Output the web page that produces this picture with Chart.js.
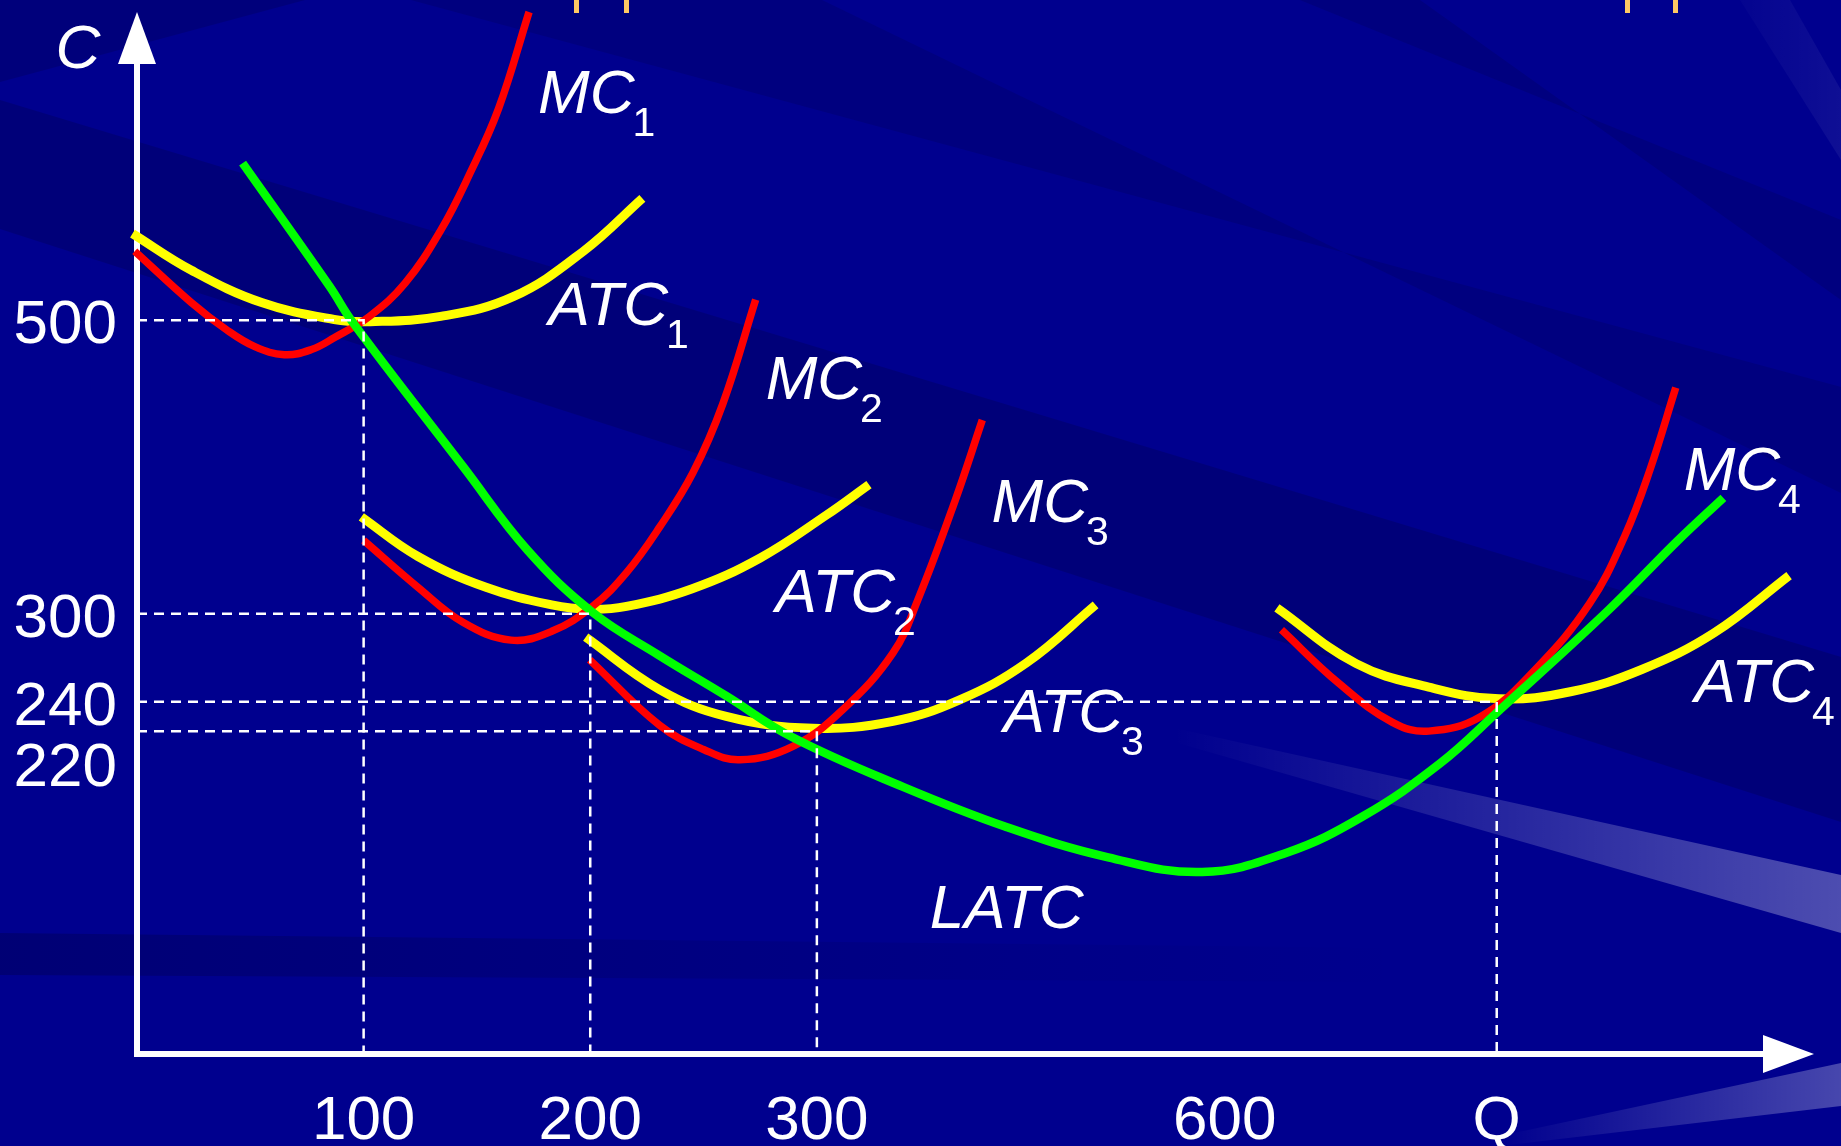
<!DOCTYPE html>
<html>
<head>
<meta charset="utf-8">
<title>Short-run and long-run average cost</title>
<script src="https://cdn.jsdelivr.net/npm/chart.js@4.4.1/dist/chart.umd.min.js"></script>
<style>
  html, body { margin: 0; padding: 0; background: #00008c; overflow: hidden; }
  #wrap { width: 1841px; height: 1146px; position: relative; }
</style>
</head>
<body>
<div id="wrap"><canvas id="chart"></canvas></div>
<script>
// Axis ticks. The "600" label sits under the LATC minimum, Q under the last guide.
const xTickValues = [100, 200, 300, 480, 600];
const xTickLabels = ['100', '200', '300', '600', 'Q'];
const yTickValues = [500, 300, 240, 220];
const yTickLabels = ['500', '300', '240', '220'];

// Short-run curves as [Q, C] pairs
const atc1 = [[-2, 559], [24, 534], [55, 512], [87, 500.5], [103, 499], [134, 502.6], [166, 516], [197, 547], [223, 583]];
const mc1 = [[-1, 547], [24, 512], [39.5, 493.5], [52, 482], [65, 476.5], [77, 480], [87, 488], [102.6, 502.6], [118.4, 525.4], [134.2, 561.7], [146.6, 599], [159.5, 644], [173, 710]];
const atc2 = [[99, 366], [124, 339], [154, 318], [183, 306], [200, 303], [216, 305], [245, 317], [275, 338], [304, 367], [323, 388]];
const mc2 = [[100, 350], [124, 318], [144, 294], [165, 282], [183, 288], [201, 305], [216, 328], [230.6, 359], [245.3, 396], [258.5, 443], [273, 514]];
const atc3 = [[198, 284], [230.6, 248.3], [260, 230], [298.3, 222], [333.6, 226.7], [363, 241.3], [392.5, 266.5], [423, 306]];
const mc3 = [[199.7, 268.7], [230.6, 224], [250, 207.5], [266, 200.5], [289.4, 209.6], [311.5, 234.7], [333.6, 273.3], [344.6, 309.6], [361, 377], [373, 432]];
const atc4 = [[503, 304], [538, 266], [570, 250], [601, 242], [633, 247], [664, 262], [696, 287], [729, 326]];
const mc4 = [[505, 289], [530, 253], [554, 226], [570, 220], [593, 230], [617, 262], [641, 307], [656.5, 353], [667.6, 398], [679, 454]];

// Long-run average total cost
const latc = [[46.6, 607], [85, 523], [95, 499], [144, 400], [172.5, 343], [201, 301], [230, 272], [260, 244],
  [289, 216], [338, 182], [383, 155], [428.5, 134], [470, 124], [507, 137], [541, 162], [575, 198],
  [601, 234], [649, 302], [680, 350], [700, 379]];

// Dashed guides from the C axis to the Q axis
const guide500 = [[0, 500], [100, 500], [100, 0]];
const guide300 = [[0, 300], [200, 300], [200, 0]];
const guide220 = [[0, 220], [300, 220], [300, 0]];
const guide240 = [[0, 240], [600, 240], [600, 0]];

// Curve names: main text, subscript, anchor [Q, C] of the text's left baseline
const curveLabels = [
  { main: 'C', sub: '', q: -36, c: 672 },
  { main: 'MC', sub: '1', q: 177, c: 641 },
  { main: 'ATC', sub: '1', q: 181.6, c: 497 },
  { main: 'MC', sub: '2', q: 277.4, c: 446 },
  { main: 'ATC', sub: '2', q: 281.8, c: 301.4 },
  { main: 'MC', sub: '3', q: 377.1, c: 362.7 },
  { main: 'ATC', sub: '3', q: 382.4, c: 219.7 },
  { main: 'MC', sub: '4', q: 682.5, c: 384.5 },
  { main: 'ATC', sub: '4', q: 687.3, c: 240.1 },
  { main: 'LATC', sub: '', q: 349.8, c: 86.1 }
];

const FONT = '"Liberation Sans", Arial, sans-serif';

function pts(arr) {
    return arr.map(([x, y]) => ({ x, y }));
}

function curve(label, data, color, width) {
    return {
        label: label,
        data: pts(data),
        borderColor: color,
        borderWidth: width,
        showLine: true,
        pointRadius: 0,
        tension: 0.4,
        fill: false,
        clip: false
    };
}

function guide(label, data) {
    return {
        label: label,
        data: pts(data),
        borderColor: '#ffffff',
        borderWidth: 2.5,
        borderDash: [10, 7],
        showLine: true,
        pointRadius: 0,
        tension: 0,
        fill: false
    };
}

/**
 * Slide background: navy with diagonal bands and pale streaks
 */
const backdrop = {
    id: 'backdrop',
    beforeDraw(chart) {
        const { ctx, width, height } = chart;
        const poly = (p, style) => {
            ctx.beginPath();
            p.forEach(([px, py], i) => (i ? ctx.lineTo(px, py) : ctx.moveTo(px, py)));
            ctx.closePath();
            ctx.fillStyle = style;
            ctx.fill();
        };
        ctx.save();
        ctx.fillStyle = '#00008e';
        ctx.fillRect(0, 0, width, height);

        poly([[0, 0], [305, 0], [0, 82]], 'rgba(0,0,50,0.2)');
        poly([[0, 100], [0, 229], [1841, 822], [1841, 657]], 'rgba(0,0,50,0.22)');
        poly([[411, 0], [822, 0], [1841, 493], [1841, 387]], 'rgba(0,0,50,0.16)');
        poly([[1300, 0], [1420, 0], [1841, 300], [1841, 220]], 'rgba(0,0,50,0.16)');

        const low = ctx.createLinearGradient(0, 0, 1400, 0);
        low.addColorStop(0, 'rgba(0,0,50,0.28)');
        low.addColorStop(1, 'rgba(0,0,50,0)');
        poly([[0, 933], [1400, 948], [1400, 982], [0, 975]], low);

        const glow1 = ctx.createLinearGradient(1174, 0, 1841, 0);
        glow1.addColorStop(0, 'rgba(255,255,255,0)');
        glow1.addColorStop(1, 'rgba(255,255,255,0.3)');
        poly([[1174, 728], [1841, 875], [1841, 933], [1174, 742]], glow1);

        const glow2 = ctx.createLinearGradient(1500, 0, 1841, 0);
        glow2.addColorStop(0, 'rgba(255,255,255,0)');
        glow2.addColorStop(1, 'rgba(255,255,255,0.28)');
        poly([[1500, 1136], [1841, 1063], [1841, 1106], [1500, 1146]], glow2);

        const glow3 = ctx.createLinearGradient(1700, 0, 1841, 0);
        glow3.addColorStop(0, 'rgba(255,255,255,0)');
        glow3.addColorStop(1, 'rgba(255,255,255,0.06)');
        poly([[1740, 0], [1790, 0], [1841, 90], [1841, 160]], glow3);

        // feet of the cut-off slide title
        ctx.fillStyle = '#ffc864';
        [574, 624, 1625, 1673].forEach(bx => ctx.fillRect(bx, 0, 5, 13));
        ctx.restore();
    }
};

/**
 * White C and Q axes with arrow heads
 */
const axes = {
    id: 'axes',
    beforeDatasetsDraw(chart) {
        const { ctx, chartArea: { left, right, top, bottom } } = chart;
        ctx.save();
        ctx.strokeStyle = '#ffffff';
        ctx.fillStyle = '#ffffff';
        ctx.lineWidth = 6;
        ctx.beginPath();
        ctx.moveTo(left, bottom + 3);
        ctx.lineTo(left, top + 48);
        ctx.moveTo(left - 3, bottom);
        ctx.lineTo(right - 48, bottom);
        ctx.stroke();

        ctx.beginPath();
        ctx.moveTo(left, top);
        ctx.lineTo(left + 19, top + 52);
        ctx.lineTo(left - 19, top + 52);
        ctx.closePath();
        ctx.fill();

        ctx.beginPath();
        ctx.moveTo(right, bottom);
        ctx.lineTo(right - 51, bottom - 19);
        ctx.lineTo(right - 51, bottom + 19);
        ctx.closePath();
        ctx.fill();
        ctx.restore();
    }
};

/**
 * Tick labels and curve names
 */
const annotate = {
    id: 'annotate',
    afterDatasetsDraw(chart) {
        const { ctx, chartArea, scales: { x, y } } = chart;
        ctx.save();
        ctx.fillStyle = '#ffffff';

        ctx.font = '62px ' + FONT;
        ctx.textAlign = 'center';
        ctx.textBaseline = 'alphabetic';
        xTickValues.forEach((v, i) => {
            ctx.fillText(xTickLabels[i], x.getPixelForValue(v), chartArea.bottom + 85);
        });

        // cost ticks, pushed apart where they would overlap
        ctx.textAlign = 'right';
        ctx.textBaseline = 'middle';
        let prev = -Infinity;
        yTickValues
            .map((v, i) => ({ text: yTickLabels[i], py: y.getPixelForValue(v) }))
            .sort((a, b) => a.py - b.py)
            .forEach(t => {
                const py = Math.max(t.py + 6, prev + 61);
                ctx.fillText(t.text, chartArea.left - 20, py);
                prev = py;
            });

        ctx.textAlign = 'left';
        ctx.textBaseline = 'alphabetic';
        curveLabels.forEach(l => {
            const px = x.getPixelForValue(l.q);
            const py = y.getPixelForValue(l.c);
            ctx.font = 'italic 62px ' + FONT;
            ctx.fillText(l.main, px, py);
            if (l.sub) {
                const w = ctx.measureText(l.main).width;
                ctx.font = '41px ' + FONT;
                ctx.fillText(l.sub, px + w - 2, py + 23);
            }
        });
        ctx.restore();
    }
};

new Chart(document.getElementById('chart'), {
    type: 'scatter',
    data: {
        // first dataset is drawn on top
        datasets: [
            guide('guide 500', guide500),
            guide('guide 300', guide300),
            guide('guide 220', guide220),
            guide('guide 240', guide240),
            curve('LATC', latc, '#00ff00', 8.5),
            curve('MC1', mc1, '#ff0000', 7.5),
            curve('MC2', mc2, '#ff0000', 7.5),
            curve('MC3', mc3, '#ff0000', 7.5),
            curve('MC4', mc4, '#ff0000', 7.5),
            curve('ATC1', atc1, '#ffff00', 9),
            curve('ATC2', atc2, '#ffff00', 9),
            curve('ATC3', atc3, '#ffff00', 9),
            curve('ATC4', atc4, '#ffff00', 9)
        ]
    },
    options: {
        responsive: true,
        maintainAspectRatio: false,
        animation: false,
        devicePixelRatio: 1,
        layout: {
            padding: { left: 137, right: 27, top: 12, bottom: 92 }
        },
        plugins: {
            legend: { display: false },
            tooltip: { enabled: false }
        },
        scales: {
            x: { type: 'linear', min: 0, max: 740, display: false },
            y: { type: 'linear', min: 0, max: 710, display: false }
        }
    },
    plugins: [backdrop, axes, annotate]
});
</script>
</body>
</html>
